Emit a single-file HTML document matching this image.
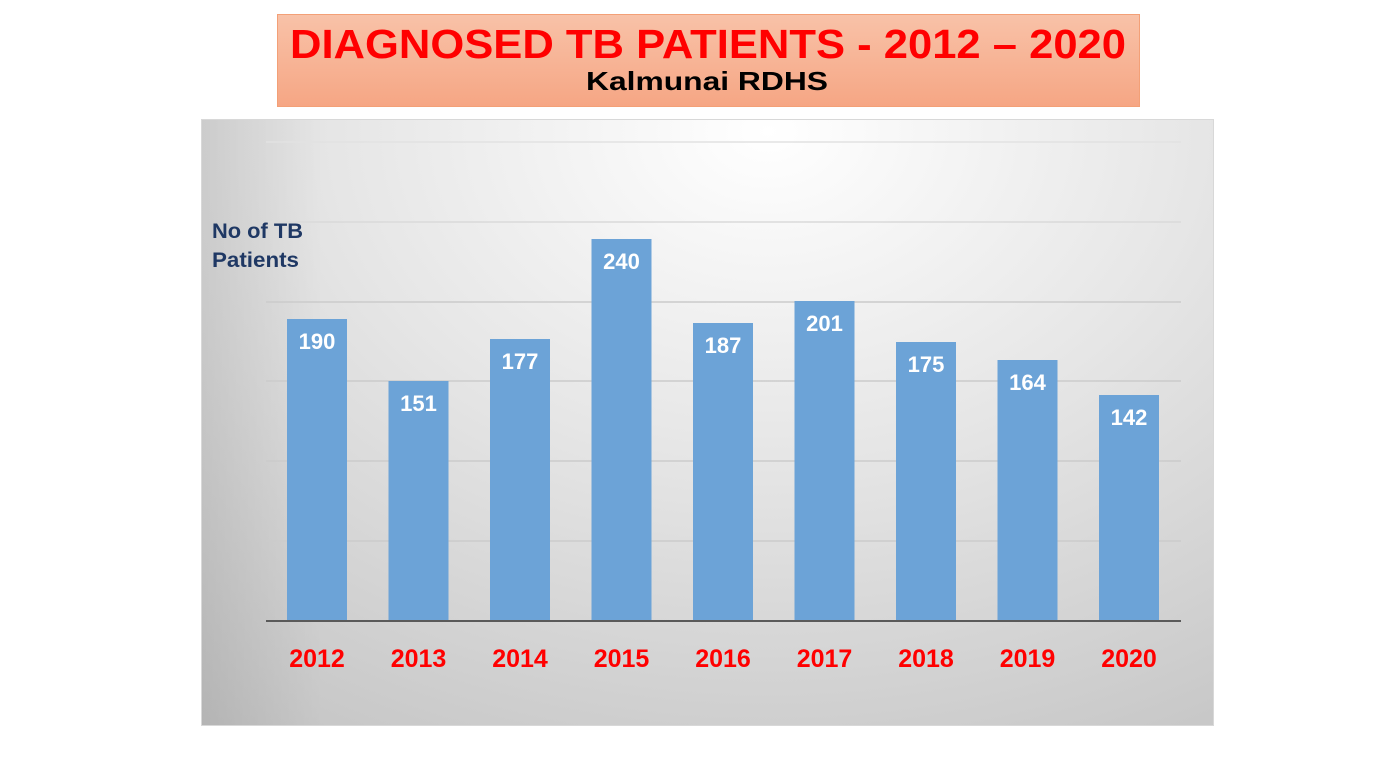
<!DOCTYPE html>
<html>
<head>
<meta charset="utf-8">
<style>
  html,body{margin:0;padding:0;background:#ffffff;}
  svg{display:block;}
</style>
</head>
<body>
<svg width="1398" height="760" viewBox="0 0 1398 760" xmlns="http://www.w3.org/2000/svg">
  <defs>
    <linearGradient id="tbox" x1="0" y1="0" x2="0" y2="1">
      <stop offset="0" stop-color="#f8c2a8"/>
      <stop offset="1" stop-color="#f6a684"/>
    </linearGradient>
    <radialGradient id="bg" cx="0.56" cy="0.02" r="0.95" gradientUnits="objectBoundingBox" gradientTransform="translate(0.56,0.02) scale(1,1.25) translate(-0.56,-0.02)">
      <stop offset="0" stop-color="#ffffff"/>
      <stop offset="0.45" stop-color="#e6e6e6"/>
      <stop offset="1" stop-color="#c4c4c4"/>
    </radialGradient>
    <linearGradient id="leftshade" x1="0" y1="0" x2="1" y2="0">
      <stop offset="0" stop-color="#000" stop-opacity="0.08"/>
      <stop offset="0.12" stop-color="#000" stop-opacity="0"/>
      <stop offset="1" stop-color="#000" stop-opacity="0"/>
    </linearGradient>
  </defs>

  <!-- title box -->
  <rect x="277.5" y="14.5" width="862" height="92" fill="url(#tbox)" stroke="#f3a077" stroke-width="1"/>
  <text x="708" y="58" text-anchor="middle" font-family="Liberation Sans, Arial, sans-serif" font-weight="bold" font-size="41" fill="#ff0000" textLength="836" lengthAdjust="spacingAndGlyphs">DIAGNOSED  TB PATIENTS - 2012 – 2020</text>
  <text x="707" y="90" text-anchor="middle" font-family="Liberation Sans, Arial, sans-serif" font-weight="bold" font-size="26" fill="#000000" textLength="242" lengthAdjust="spacingAndGlyphs">Kalmunai RDHS</text>

  <!-- chart area -->
  <rect x="201.5" y="119.5" width="1012" height="606" fill="url(#bg)" stroke="#d8d8d8" stroke-width="1"/>
  <rect x="202" y="120" width="1011" height="605" fill="url(#leftshade)"/>

  <!-- gridlines -->
  <g stroke="#cbcbcb" stroke-width="1.5">
    <line x1="266" y1="142" x2="1181" y2="142" stroke="#e2e2e2"/>
    <line x1="266" y1="222" x2="1181" y2="222" stroke="#dadada"/>
    <line x1="266" y1="302" x2="1181" y2="302"/>
    <line x1="266" y1="381" x2="1181" y2="381"/>
    <line x1="266" y1="461" x2="1181" y2="461"/>
    <line x1="266" y1="541" x2="1181" y2="541"/>
  </g>

  <!-- bars -->
  <g fill="#6ca3d7">
    <rect x="287" y="319" width="60" height="302"/>
    <rect x="388.5" y="381" width="60" height="240"/>
    <rect x="490" y="339" width="60" height="282"/>
    <rect x="591.5" y="239" width="60" height="382"/>
    <rect x="693" y="323" width="60" height="298"/>
    <rect x="794.5" y="301" width="60" height="320"/>
    <rect x="896" y="342" width="60" height="279"/>
    <rect x="997.5" y="360" width="60" height="261"/>
    <rect x="1099" y="395" width="60" height="226"/>
  </g>

  <!-- baseline -->
  <line x1="266" y1="621" x2="1181" y2="621" stroke="#5a5a5a" stroke-width="2"/>

  <!-- bar value labels -->
  <g font-family="Liberation Sans, Arial, sans-serif" font-weight="bold" font-size="22" fill="#ffffff" text-anchor="middle">
    <text x="317" y="349">190</text>
    <text x="418.5" y="411">151</text>
    <text x="520" y="369">177</text>
    <text x="621.5" y="269">240</text>
    <text x="723" y="353">187</text>
    <text x="824.5" y="331">201</text>
    <text x="926" y="372">175</text>
    <text x="1027.5" y="390">164</text>
    <text x="1129" y="425">142</text>
  </g>

  <!-- year labels -->
  <g font-family="Liberation Sans, Arial, sans-serif" font-weight="bold" font-size="25" fill="#ff0000" text-anchor="middle">
    <text x="317" y="667">2012</text>
    <text x="418.5" y="667">2013</text>
    <text x="520" y="667">2014</text>
    <text x="621.5" y="667">2015</text>
    <text x="723" y="667">2016</text>
    <text x="824.5" y="667">2017</text>
    <text x="926" y="667">2018</text>
    <text x="1027.5" y="667">2019</text>
    <text x="1129" y="667">2020</text>
  </g>

  <!-- axis title -->
  <g font-family="Liberation Sans, Arial, sans-serif" font-weight="bold" font-size="21" fill="#1f3864">
    <text x="212" y="238" textLength="91" lengthAdjust="spacingAndGlyphs">No of TB</text>
    <text x="212" y="267" textLength="87" lengthAdjust="spacingAndGlyphs">Patients</text>
  </g>
</svg>
</body>
</html>
